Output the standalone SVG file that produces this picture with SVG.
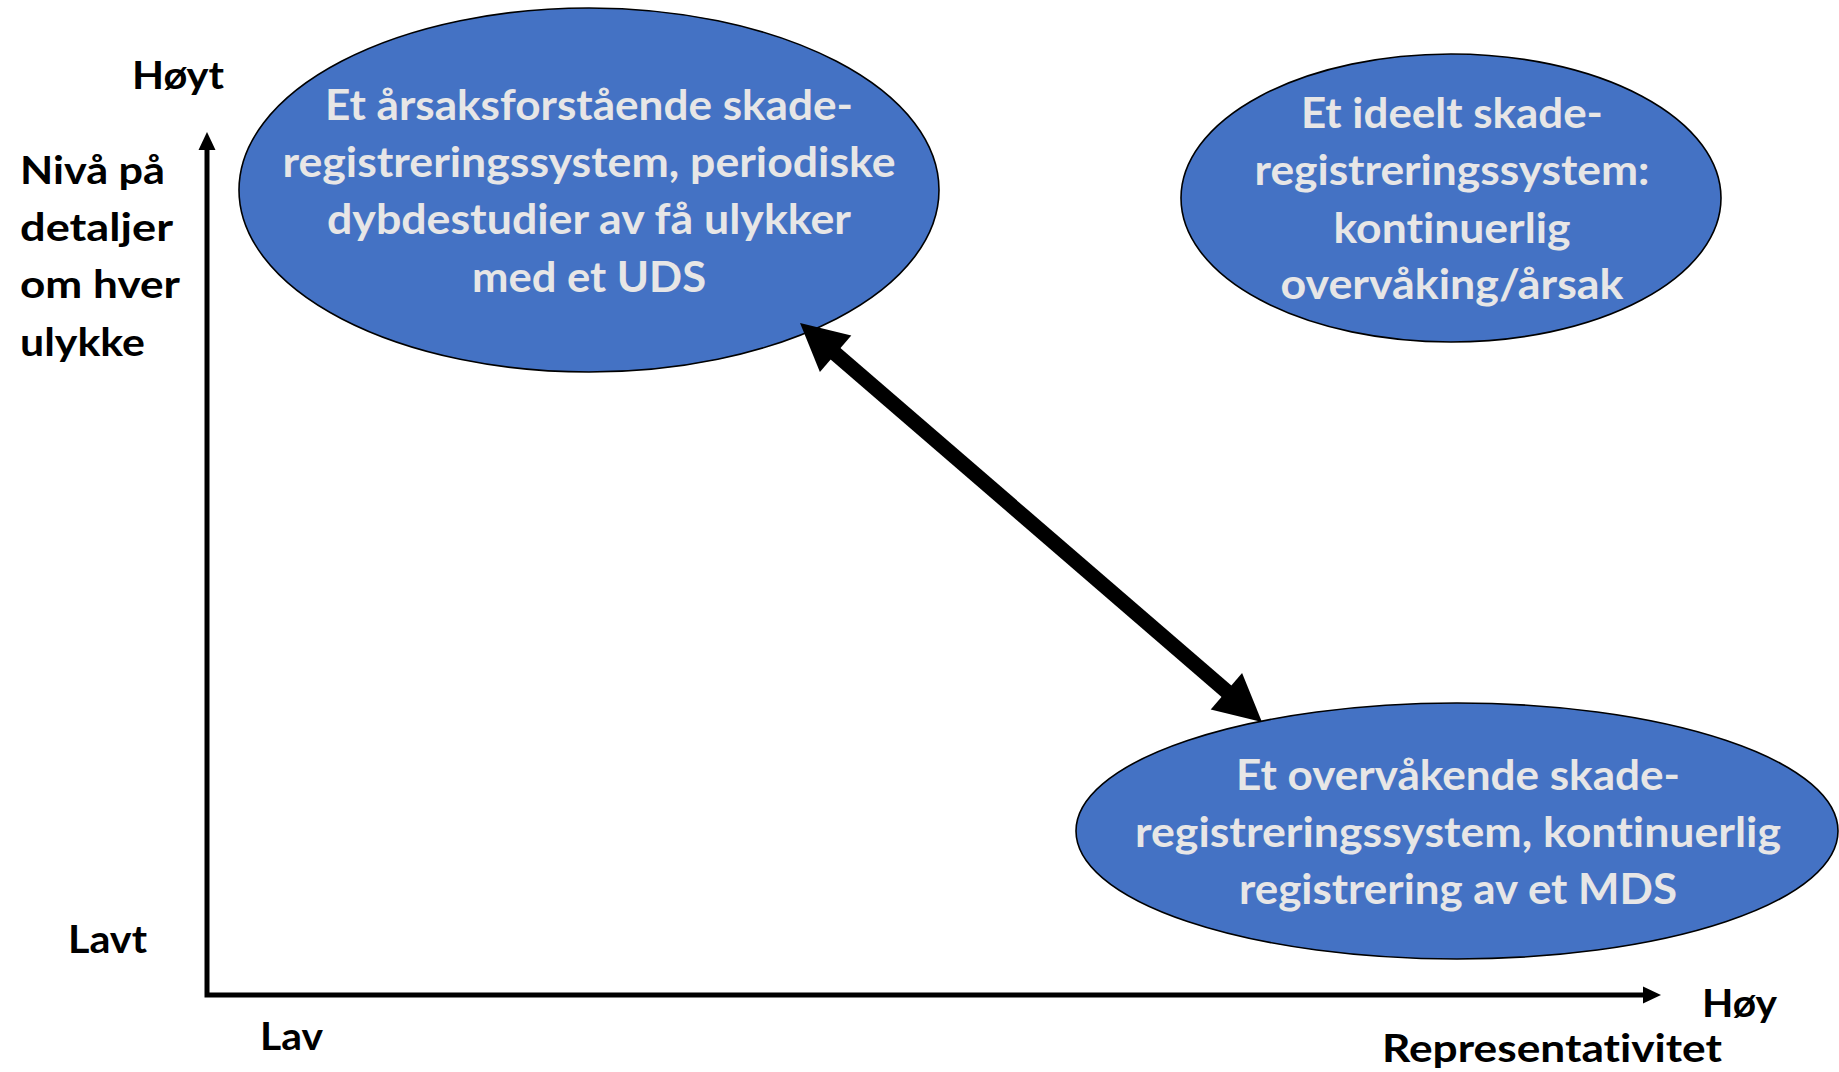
<svg xmlns="http://www.w3.org/2000/svg" width="1839" height="1072" viewBox="0 0 1839 1072">
<style>
.node ellipse{fill:#4472C4;stroke:#000;stroke-width:1.6}
.nt{font-family:Lato,"Open Sans","Liberation Sans",sans-serif;font-weight:700;font-size:42px;fill:#E7E6E6;text-anchor:middle;font-variant-ligatures:none}
.lb{font-family:Lato,"Open Sans","Liberation Sans",sans-serif;font-weight:700;font-size:39px;fill:#000;font-variant-ligatures:none}
</style>
<defs>
<marker id="big" markerUnits="userSpaceOnUse" orient="auto-start-reverse" markerWidth="60" markerHeight="60" refX="7" refY="0" viewBox="0 -30 60 60" overflow="visible">
<path d="M0,-24 L47,0 L0,24 z" fill="#000"/>
</marker>
<marker id="ax" markerUnits="userSpaceOnUse" orient="auto-start-reverse" markerWidth="20" markerHeight="20" refX="8" refY="0" viewBox="0 -10 20 20" overflow="visible">
<path d="M0,-8.5 L18,0 L0,8.5 z" fill="#000"/>
</marker>
</defs>
<rect width="1839" height="1072" fill="#fff"/>

<g id="axes">
<path d="M207,142 L207,995 L1651,995" fill="none" stroke="#000" stroke-width="5" marker-start="url(#ax)" marker-end="url(#ax)"/>
</g>

<g id="labels">
<text class="lb" x="132" y="89" textLength="92" lengthAdjust="spacingAndGlyphs">Høyt</text>
<text class="lb" x="20" y="184" textLength="145" lengthAdjust="spacingAndGlyphs">Nivå på</text>
<text class="lb" x="20" y="241" textLength="153" lengthAdjust="spacingAndGlyphs">detaljer</text>
<text class="lb" x="20" y="298" textLength="160" lengthAdjust="spacingAndGlyphs">om hver</text>
<text class="lb" x="20" y="356" textLength="125" lengthAdjust="spacingAndGlyphs">ulykke</text>
<text class="lb" x="68" y="953" textLength="79" lengthAdjust="spacingAndGlyphs">Lavt</text>
<text class="lb" x="260" y="1050" textLength="63" lengthAdjust="spacingAndGlyphs">Lav</text>
<text class="lb" x="1702" y="1017" textLength="75" lengthAdjust="spacingAndGlyphs">Høy</text>
<text class="lb" x="1382" y="1062" textLength="340" lengthAdjust="spacingAndGlyphs">Representativitet</text>
</g>

<g id="node-arsak" class="node">
<ellipse cx="589" cy="190" rx="350" ry="182"/>
<text class="nt" x="589" y="120" textLength="528" lengthAdjust="spacingAndGlyphs">Et årsaksforstående skade-</text>
<text class="nt" x="589" y="177" textLength="613" lengthAdjust="spacingAndGlyphs">registreringssystem, periodiske</text>
<text class="nt" x="589" y="234" textLength="524" lengthAdjust="spacingAndGlyphs">dybdestudier av få ulykker</text>
<text class="nt" x="589" y="292" textLength="234" lengthAdjust="spacingAndGlyphs">med et UDS</text>
</g>

<g id="node-ideelt" class="node">
<ellipse cx="1451" cy="198" rx="270" ry="144"/>
<text class="nt" x="1452" y="128" textLength="302" lengthAdjust="spacingAndGlyphs">Et ideelt skade-</text>
<text class="nt" x="1452" y="185" textLength="395" lengthAdjust="spacingAndGlyphs">registreringssystem:</text>
<text class="nt" x="1452" y="243" textLength="237" lengthAdjust="spacingAndGlyphs">kontinuerlig</text>
<text class="nt" x="1452" y="299" textLength="343" lengthAdjust="spacingAndGlyphs">overvåking/årsak</text>
</g>

<g id="node-overvak" class="node">
<ellipse cx="1457" cy="831" rx="381" ry="128"/>
<text class="nt" x="1458" y="790" textLength="444" lengthAdjust="spacingAndGlyphs">Et overvåkende skade-</text>
<text class="nt" x="1458" y="847" textLength="646" lengthAdjust="spacingAndGlyphs">registreringssystem, kontinuerlig</text>
<text class="nt" x="1458" y="904" textLength="438" lengthAdjust="spacingAndGlyphs">registrering av et MDS</text>
</g>

<g id="connectors">
<line x1="830.3" y1="349.2" x2="1231.7" y2="695.8" stroke="#000" stroke-width="15" marker-start="url(#big)" marker-end="url(#big)"/>
</g>
</svg>
